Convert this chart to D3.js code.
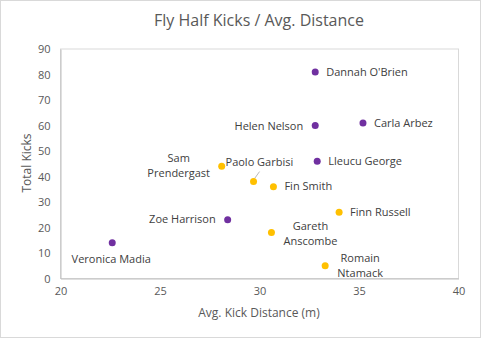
<!DOCTYPE html>
<html><head><meta charset="utf-8">
<script src="https://cdn.jsdelivr.net/npm/d3@7"></script>
<style>body{margin:0;background:#fff;font-family:"Open Sans","Noto Sans",sans-serif;}</style>
</head><body><svg id="c" width="481" height="338"></svg>
<script>
const players = ["Dannah O'Brien","Helen Nelson","Carla Arbez","Lleucu George","Sam Prendergast","Paolo Garbisi","Fin Smith","Finn Russell","Gareth Anscombe","Romain Ntamack","Zoe Harrison","Veronica Madia"];
const avgDistance = [32.8,32.8,35.2,32.9,28.1,29.7,30.7,34.0,30.6,33.3,28.4,22.6];
const totalKicks = [81,60,61,46,44,38,36,26,18,5,23,14];
const series = ["W","W","W","W","M","M","M","M","M","M","W","W"];
const xTicks = [20,25,30,35,40];
const yTicks = [0,10,20,30,40,50,60,70,80,90];
// label placement (style): [lines, dx, dy, anchor]
const labelPos = [
 [["Dannah O'Brien"],11,4,"start"],
 [["Helen Nelson"],-12,4,"end"],
 [["Carla Arbez"],11,4,"start"],
 [["Lleucu George"],11,4,"start"],
 [["Sam","Prendergast"],-43,-4,"middle"],
 [["Paolo Garbisi"],-28,-16,"start"],
 [["Fin Smith"],11,3,"start"],
 [["Finn Russell"],11,4,"start"],
 [["Gareth","Anscombe"],39,-3,"middle"],
 [["Romain","Ntamack"],35,-4,"middle"],
 [["Zoe Harrison"],-12,3,"end"],
 [["Veronica Madia"],-1,20,"middle"]
];
const colors = {W:"#7030A0", M:"#FFC000"};
const svg = d3.select("#c");
svg.append("rect").attr("x",0.5).attr("y",0.5).attr("width",480).attr("height",337).attr("fill","#fff").attr("stroke","#d9d9d9");
const L=60.5,R=458.5,T=49,B=278.5;
const x = d3.scaleLinear().domain([20,40]).range([L,R]);
const y = d3.scaleLinear().domain([0,90]).range([B,T]);
svg.append("rect").attr("x",L).attr("y",T).attr("width",R-L).attr("height",B-T).attr("fill","none").attr("stroke","#d9d9d9");
const xa = svg.append("g").attr("transform",`translate(0,${B})`).call(d3.axisBottom(x).tickValues(xTicks).tickSize(0).tickPadding(9));
const ya = svg.append("g").attr("transform",`translate(${L},0)`).call(d3.axisLeft(y).tickValues(yTicks).tickSize(0).tickPadding(10));
[xa,ya].forEach(a=>{a.select(".domain").attr("stroke","#bfbfbf");a.selectAll("text").attr("fill","#595959").attr("font-size",11).attr("font-family","Open Sans, sans-serif");});
svg.append("text").attr("x",259).attr("y",26).attr("text-anchor","middle").attr("font-size",16).attr("fill","#595959").text("Fly Half Kicks / Avg. Distance");
svg.append("text").attr("x",259).attr("y",317).attr("text-anchor","middle").attr("font-size",12).attr("fill","#595959").text("Avg. Kick Distance (m)");
svg.append("text").attr("transform","translate(31,163) rotate(-90)").attr("text-anchor","middle").attr("font-size",12).attr("fill","#595959").text("Total Kicks");
// leader line for Paolo Garbisi
const pi = players.indexOf("Paolo Garbisi");
svg.append("line").attr("x1",x(avgDistance[pi])+6).attr("y1",y(totalKicks[pi])-10).attr("x2",x(avgDistance[pi])+1).attr("y2",y(totalKicks[pi])-3).attr("stroke","#a6a6a6").attr("stroke-width",0.8);
const g = svg.append("g");
players.forEach((p,i)=>{
  const cx=x(avgDistance[i]), cy=y(totalKicks[i]);
  g.append("circle").attr("cx",cx).attr("cy",cy).attr("r",3.5).attr("fill",colors[series[i]]);
  const lp = labelPos[i];
  const lines = lp[0];
  const t = g.append("text").attr("font-size",11).attr("fill","#404040").attr("text-anchor",lp[3]);
  lines.forEach((ln,j)=>{
    t.append("tspan").attr("x",cx+lp[1]).attr("y",cy+lp[2]+j*15 - (lines.length>1?0:0)).text(ln);
  });
});
</script></body></html>
